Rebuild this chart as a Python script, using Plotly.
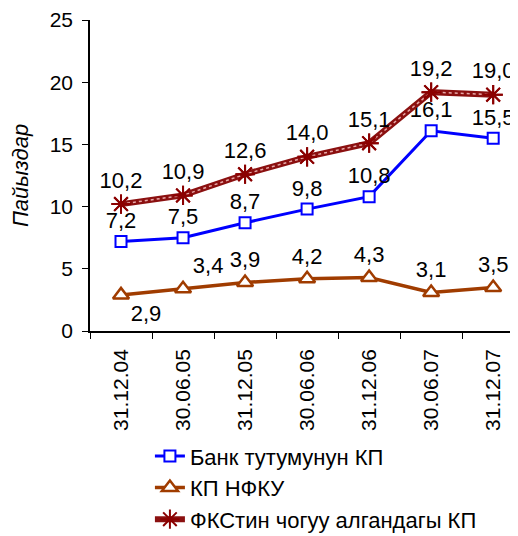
import plotly.graph_objects as go

categories = ["31.12.04", "30.06.05", "31.12.05", "30.06.06", "31.12.06", "30.06.07", "31.12.07"]
bank = [7.2, 7.5, 8.7, 9.8, 10.8, 16.1, 15.5]
nfku = [2.9, 3.4, 3.9, 4.2, 4.3, 3.1, 3.5]
fks = [10.2, 10.9, 12.6, 14.0, 15.1, 19.2, 19.0]
names = ["Банк тутумунун КП", "КП НФКУ", "ФКСтин чогуу алгандагы КП"]
y_title = "Пайыздар"

def fmt(v):
    return f"{v:.1f}".replace(".", ",")

FONT = "Liberation Sans"
FS = 21
LFS = 22

nfku_pos = ["bottom right", "top right"] + ["top center"] * 5

fig = go.Figure()
fig.add_trace(go.Scatter(
    x=categories, y=bank, name=names[0], mode="lines+markers+text", legendgroup="a",
    line=dict(color="#0000FF", width=3),
    marker=dict(symbol="square", size=11, color="white", line=dict(color="#0000FF", width=2)),
    text=[fmt(v) for v in bank], textposition="top center",
    textfont=dict(family=FONT, size=LFS, color="black"),
))
fig.add_trace(go.Scatter(
    x=categories, y=nfku, name=names[1], mode="lines+markers+text", legendgroup="b",
    line=dict(color="#A03C00", width=3.5),
    marker=dict(symbol="triangle-up", size=14, color="white", line=dict(color="#A03C00", width=2.5)),
    text=[fmt(v) for v in nfku], textposition=nfku_pos,
    textfont=dict(family=FONT, size=LFS, color="black"),
))
fig.add_trace(go.Scatter(
    x=categories, y=fks, name=names[2], mode="lines+markers+text", legendgroup="c",
    line=dict(color="#8B1010", width=6),
    marker=dict(symbol="asterisk-open", size=16, color="#8B0000", line=dict(color="#8B0000", width=2)),
    text=[fmt(v) for v in fks], textposition="top center",
    textfont=dict(family=FONT, size=LFS, color="black"),
))
fig.add_trace(go.Scatter(
    x=categories, y=fks, mode="lines", showlegend=False, hoverinfo="skip", legendgroup="c",
    line=dict(color="#E8A8A8", width=1.5, dash="dot"),
))
fig.add_trace(go.Scatter(
    x=categories, y=fks, mode="markers", showlegend=False, hoverinfo="skip", legendgroup="c",
    marker=dict(symbol="asterisk-open", size=16, color="#8B0000", line=dict(color="#8B0000", width=2)),
))

fig.update_layout(
    width=510, height=528,
    margin=dict(l=82, r=0, t=12, b=205),
    paper_bgcolor="white", plot_bgcolor="white",
    font=dict(family=FONT, size=FS, color="black"),
    showlegend=True,
    legend=dict(x=0.14, xref="paper", y=0.191, yref="container",
                xanchor="left", yanchor="top",
                font=dict(family=FONT, size=22, color="black"),
                tracegroupgap=0,
                bgcolor="rgba(0,0,0,0)"),
    xaxis=dict(
        type="category", range=[-0.5, 6.4], tickangle=-90, automargin=False,
        showline=True, linecolor="black", linewidth=1.5,
        ticks="outside", ticklen=6, tickcolor="black", tickson="boundaries",
        ticklabelstandoff=8,
        showgrid=False, zeroline=False,
        tickfont=dict(family=FONT, size=FS),
    ),
    yaxis=dict(
        range=[0, 25], dtick=5, automargin=False,
        showline=True, linecolor="black", linewidth=1.5,
        ticks="outside", ticklen=6, tickcolor="black", ticklabelstandoff=5,
        showgrid=False, zeroline=False,
        tickfont=dict(family=FONT, size=FS),
        title=dict(text=f"<i>{y_title}</i>", font=dict(family=FONT, size=22), standoff=16),
    ),
)

fig.write_html("out.html")
